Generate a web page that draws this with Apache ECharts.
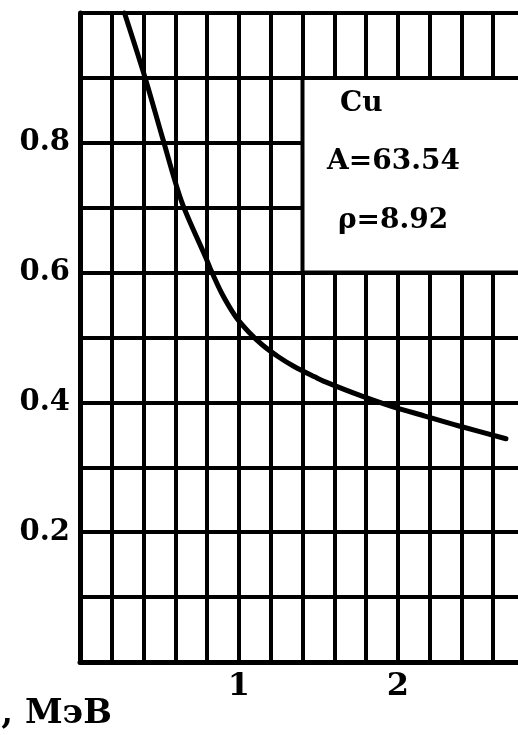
<!DOCTYPE html>
<html>
<head>
<meta charset="utf-8">
<script src="https://cdn.jsdelivr.net/npm/echarts@6/dist/echarts.min.js"></script>
<style>
html,body{margin:0;padding:0;background:#fff;overflow:hidden;}
#chart{width:518px;height:735px;}
</style>
</head>
<body>
<div id="chart"></div>
<script>
// Data (Cu curve)
var energy = [0.28, 0.41, 0.52, 0.64, 0.79, 0.82, 0.89, 0.98, 1.06, 1.15, 1.25, 1.35, 1.48, 1.54, 1.77, 1.96, 2.17, 2.38, 2.68];
var values = [1.0, 0.90, 0.807, 0.709, 0.624, 0.606, 0.569, 0.532, 0.509, 0.488, 0.470, 0.455, 0.439, 0.432, 0.410, 0.394, 0.379, 0.364, 0.344];
var xLabels = [1, 2];
var yLabels = [0.2, 0.4, 0.6, 0.8];
var boxX = [1.4, 2.8];
var boxY = [0.6, 0.9];
var annotation = ['Cu', 'A=63.54', 'ρ=8.92'];
var axisTitle = ', МэВ';

var FONT = '"DejaVu Serif", "Liberation Serif", serif';
var chart = echarts.init(document.getElementById('chart'), null, {renderer: 'canvas'});

var pts = energy.map(function (e, i) { return [e, values[i]]; });

chart.setOption({
  animation: false,
  backgroundColor: '#ffffff',
  grid: {left: 80, top: 13, width: 445, bottom: 73, containLabel: false, outerBoundsMode: 'none'},
  xAxis: {
    type: 'value', min: 0, max: 2.8, interval: 0.2,
    axisLine: {show: true, lineStyle: {color: '#000', width: 5}},
    axisTick: {show: false},
    splitLine: {show: true, lineStyle: {color: '#000', width: 4}},
    axisLabel: {
      margin: 9, color: '#000', fontFamily: FONT, fontWeight: 'bold', fontSize: 32,
      formatter: function (v) {
        for (var i = 0; i < xLabels.length; i++) if (Math.abs(v - xLabels[i]) < 1e-6) return String(xLabels[i]);
        return '';
      }
    }
  },
  yAxis: {
    type: 'value', min: 0, max: 1, interval: 0.1,
    axisLine: {show: true, lineStyle: {color: '#000', width: 5}},
    axisTick: {show: false},
    splitLine: {show: true, lineStyle: {color: '#000', width: 4}},
    axisLabel: {
      margin: 10, color: '#000', fontFamily: FONT, fontWeight: 'bold', fontSize: 29,
      formatter: function (v) {
        for (var i = 0; i < yLabels.length; i++) if (Math.abs(v - yLabels[i]) < 1e-6) return yLabels[i].toFixed(1);
        return '';
      }
    }
  },
  series: [{
    type: 'line',
    data: pts,
    smooth: 0.3,
    showSymbol: false,
    symbol: 'none',
    clip: false,
    lineStyle: {color: '#000', width: 5, cap: 'round', join: 'round'},
    z: 5,
    markArea: {
      silent: true,
      itemStyle: {color: '#ffffff', borderColor: '#000', borderWidth: 4},
      data: [[{xAxis: boxX[0], yAxis: boxY[1]}, {xAxis: boxX[1], yAxis: boxY[0]}]]
    }
  }],
  graphic: [
    {type: 'text', left: 340, top: 90, z: 100, style: {text: annotation[0], font: 'bold 28px ' + FONT, fill: '#000'}},
    {type: 'text', left: 327, top: 148, z: 100, style: {text: annotation[1], font: 'bold 28px ' + FONT, fill: '#000'}},
    {type: 'text', left: 338, top: 207, z: 100, style: {text: annotation[2], font: 'bold 28px ' + FONT, fill: '#000'}},
    {type: 'text', right: 406, top: 697, z: 100, style: {text: axisTitle, font: 'bold 34px ' + FONT, fill: '#000'}}
  ]
});
</script>
</body>
</html>
